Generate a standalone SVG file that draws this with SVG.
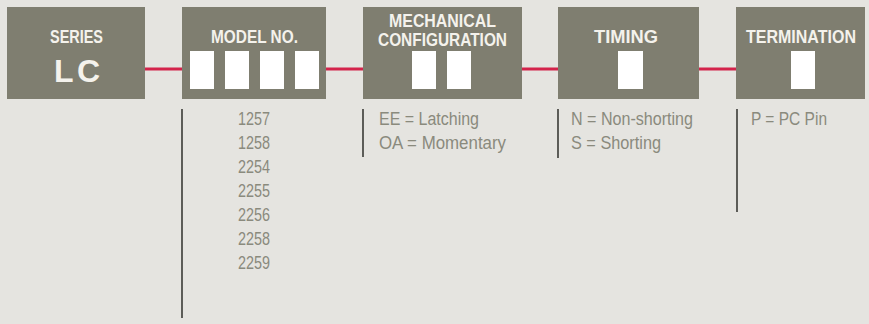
<svg xmlns="http://www.w3.org/2000/svg" width="869" height="324" viewBox="0 0 869 324">
<style>
.box{fill:#7f7e70}
.slot{fill:#ffffff}
.hd{font-family:"Liberation Sans",Arial,sans-serif;font-weight:bold;font-size:18px;fill:#f4f2ec}
.lc{font-family:"Liberation Sans",Arial,sans-serif;font-weight:bold;font-size:32px;fill:#f4f2ec}
.tx{font-family:"Liberation Sans",Arial,sans-serif;font-size:17.5px;fill:#8a8a7d}
.link{stroke:#d3234b;stroke-width:3;fill:none}
.bar{stroke:#3a3a36;stroke-width:1.6;fill:none}
</style>
<rect width="869" height="324" fill="#e5e4e0"/>
<g id="connectors">
<line class="link" x1="145" y1="69" x2="182" y2="69"/>
<line class="link" x1="326" y1="69" x2="363" y2="69"/>
<line class="link" x1="522" y1="69" x2="558" y2="69"/>
<line class="link" x1="699" y1="69" x2="736" y2="69"/>
</g>
<g id="series">
<rect class="box" x="7" y="7" width="138" height="92"/>
<text class="hd" x="76.5" y="43" text-anchor="middle" textLength="53" lengthAdjust="spacingAndGlyphs">SERIES</text>
<text class="lc" x="77" y="82" text-anchor="middle" textLength="46" lengthAdjust="spacing">LC</text>
</g>
<g id="model">
<rect class="box" x="182" y="7" width="144" height="92"/>
<text class="hd" x="254.5" y="43" text-anchor="middle" textLength="87" lengthAdjust="spacingAndGlyphs">MODEL NO.</text>
<rect class="slot" x="190" y="51" width="24" height="38"/>
<rect class="slot" x="225" y="51" width="24" height="38"/>
<rect class="slot" x="260" y="51" width="24" height="38"/>
<rect class="slot" x="295" y="51" width="24" height="38"/>
<line class="bar" x1="182" y1="109" x2="182" y2="318"/>
<text class="tx" x="238" y="125" textLength="32" lengthAdjust="spacingAndGlyphs">1257</text>
<text class="tx" x="238" y="149" textLength="32" lengthAdjust="spacingAndGlyphs">1258</text>
<text class="tx" x="238" y="173" textLength="32" lengthAdjust="spacingAndGlyphs">2254</text>
<text class="tx" x="238" y="197" textLength="32" lengthAdjust="spacingAndGlyphs">2255</text>
<text class="tx" x="238" y="221" textLength="32" lengthAdjust="spacingAndGlyphs">2256</text>
<text class="tx" x="238" y="245" textLength="32" lengthAdjust="spacingAndGlyphs">2258</text>
<text class="tx" x="238" y="269" textLength="32" lengthAdjust="spacingAndGlyphs">2259</text>
</g>
<g id="mechanical">
<rect class="box" x="363" y="7" width="159" height="92"/>
<text class="hd" x="442.5" y="27" text-anchor="middle" textLength="107" lengthAdjust="spacingAndGlyphs">MECHANICAL</text>
<text class="hd" x="442.5" y="46" text-anchor="middle" textLength="129" lengthAdjust="spacingAndGlyphs">CONFIGURATION</text>
<rect class="slot" x="412" y="51" width="24" height="38"/>
<rect class="slot" x="447" y="51" width="24" height="38"/>
<line class="bar" x1="363" y1="109" x2="363" y2="157"/>
<text class="tx" x="379" y="125" textLength="100" lengthAdjust="spacingAndGlyphs">EE = Latching</text>
<text class="tx" x="379" y="149" textLength="127" lengthAdjust="spacingAndGlyphs">OA = Momentary</text>
</g>
<g id="timing">
<rect class="box" x="558" y="7" width="141" height="92"/>
<text class="hd" x="626" y="43" text-anchor="middle" textLength="64" lengthAdjust="spacingAndGlyphs">TIMING</text>
<rect class="slot" x="618" y="51" width="25" height="38"/>
<line class="bar" x1="558" y1="109" x2="558" y2="158"/>
<text class="tx" x="571" y="125" textLength="122" lengthAdjust="spacingAndGlyphs">N = Non-shorting</text>
<text class="tx" x="571" y="149" textLength="90" lengthAdjust="spacingAndGlyphs">S = Shorting</text>
</g>
<g id="termination">
<rect class="box" x="736" y="7" width="129" height="92"/>
<text class="hd" x="801" y="43" text-anchor="middle" textLength="110" lengthAdjust="spacingAndGlyphs">TERMINATION</text>
<rect class="slot" x="791" y="51" width="24" height="38"/>
<line class="bar" x1="737" y1="109" x2="737" y2="212"/>
<text class="tx" x="751" y="125" textLength="76" lengthAdjust="spacingAndGlyphs">P = PC Pin</text>
</g>
</svg>
